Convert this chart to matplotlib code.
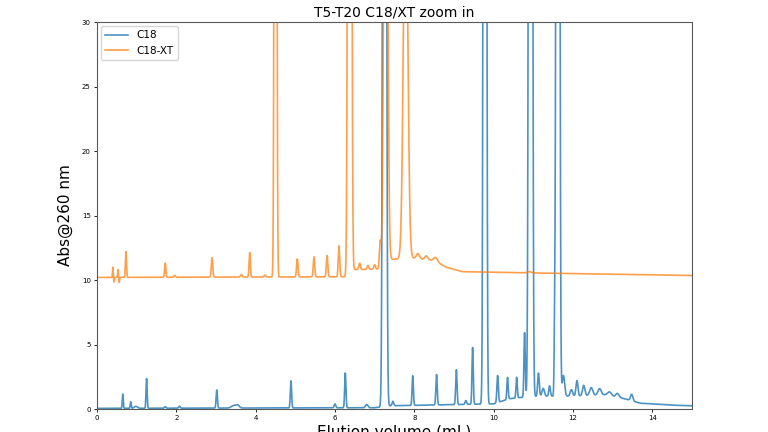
'''T5-T20 C18/XT zoom in - chromatogram overlay'''
import numpy as np
import matplotlib.pyplot as plt

# peak tables: position (mL), height (above baseline), sigma (mL)
C18_POS = [0.65, 0.85, 0.98, 1.25, 1.72, 2.08, 3.02, 3.45, 3.55, 4.89, 6.0, 6.26,
           6.8, 7.25, 7.46, 7.96, 8.56, 9.06, 9.3, 9.47, 9.78, 10.1, 10.35, 10.58,
           10.78, 10.93, 11.13, 11.25, 11.41, 11.54, 11.62, 11.76, 11.96, 12.1,
           12.27, 12.46, 12.67, 12.92, 13.12, 13.48]
C18_HEIGHT = [1.1, 0.5, 0.15, 2.3, 0.12, 0.15, 1.4, 0.2, 0.2, 2.1, 0.3, 2.7,
              0.25, 200, 0.35, 2.3, 2.35, 2.7, 0.3, 4.4, 250, 2.1, 1.7, 1.6,
              5.0, 250, 1.8, 0.6, 0.8, 5.0, 250, 1.6, 0.5, 1.2,
              0.8, 0.6, 0.5, 0.3, 0.3, 0.5]
C18_SIGMA = [0.012, 0.012, 0.04, 0.014, 0.02, 0.02, 0.016, 0.06, 0.04, 0.016, 0.02, 0.016,
             0.03, 0.03, 0.02, 0.016, 0.017, 0.017, 0.02, 0.016, 0.026, 0.018, 0.016, 0.016,
             0.016, 0.03, 0.02, 0.03, 0.02, 0.014, 0.028, 0.03, 0.03, 0.025,
             0.03, 0.04, 0.04, 0.05, 0.04, 0.03]
C18_BASE_X = [0, 7.0, 7.4, 10.0, 10.4, 10.7, 11.2, 12.0, 12.8, 13.3, 13.7, 14.5, 15]
C18_BASE_Y = [0.05, 0.1, 0.25, 0.4, 0.8, 0.9, 1.0, 1.0, 1.1, 0.8, 0.45, 0.3, 0.25]

XT_POS = [0.40, 0.43, 0.53, 0.56, 0.73, 1.72, 1.96, 2.90, 3.64, 3.85, 4.23, 4.50,
          5.05, 5.47, 5.80, 6.10, 6.37, 6.62, 6.83, 7.00, 7.14, 7.28, 7.78,
          8.09, 8.30, 8.54, 10.9]
XT_HEIGHT = [0.8, -0.35, 0.6, -0.4, 2.0, 1.1, 0.15, 1.5, 0.2, 1.9, 0.15, 150,
             1.4, 1.55, 1.65, 2.4, 200, 0.5, 0.3, 0.35, 2.0, 60, 31,
             0.4, 0.3, 0.3, 0.1]
XT_SIGMA = [0.008, 0.008, 0.008, 0.008, 0.014, 0.016, 0.02, 0.018, 0.02, 0.016, 0.02, 0.022,
            0.018, 0.018, 0.018, 0.018, 0.03, 0.02, 0.02, 0.02, 0.02, 0.04, 0.053,
            0.04, 0.04, 0.05, 0.05]
XT_BASE_X = [0, 6.3, 6.45, 7.1, 7.4, 7.65, 7.95, 8.5, 8.8, 9.2, 10.0, 11.0, 15]
XT_BASE_Y = [10.2, 10.25, 10.8, 10.85, 11.6, 11.65, 11.7, 11.5, 11.0, 10.65, 10.6, 10.55, 10.35]


def trace(x, pos, height, sigma, base_x, base_y):
    y = np.interp(x, base_x, base_y)
    for p, h, s in zip(pos, height, sigma):
        y = y + h * np.exp(-0.5 * ((x - p) / s) ** 2)
    return y


VOLUME = np.linspace(0, 15, 7501)
ABS_C18 = trace(VOLUME, C18_POS, C18_HEIGHT, C18_SIGMA, C18_BASE_X, C18_BASE_Y)
ABS_XT = trace(VOLUME, XT_POS, XT_HEIGHT, XT_SIGMA, XT_BASE_X, XT_BASE_Y)

fig = plt.figure(figsize=(7.68, 4.32), dpi=100)
ax = fig.add_axes([0.1263, 0.0532, 0.7747, 0.8958])
ax.plot(VOLUME, ABS_C18, color='#1f77b4', lw=1.2, alpha=0.8, label='C18')
ax.plot(VOLUME, ABS_XT, color='#ff7f0e', lw=1.2, alpha=0.75, label='C18-XT')
ax.set_xlim(0, 15)
ax.set_ylim(0, 30)
ax.set_title('T5-T20 C18/XT zoom in', fontsize=10, pad=4)
ax.set_xlabel('Elution volume (mL)', fontsize=11, labelpad=2)
ax.set_ylabel('Abs@260 nm', fontsize=11, labelpad=6)
ax.tick_params(labelsize=5, length=2.5, width=0.6, pad=2)
for sp in ax.spines.values():
    sp.set_color('0.35')
    sp.set_linewidth(0.8)
ax.legend(loc='upper left', fontsize=7.5, handlelength=2.2, borderaxespad=0.4)
fig.savefig('out.png', dpi=100)
